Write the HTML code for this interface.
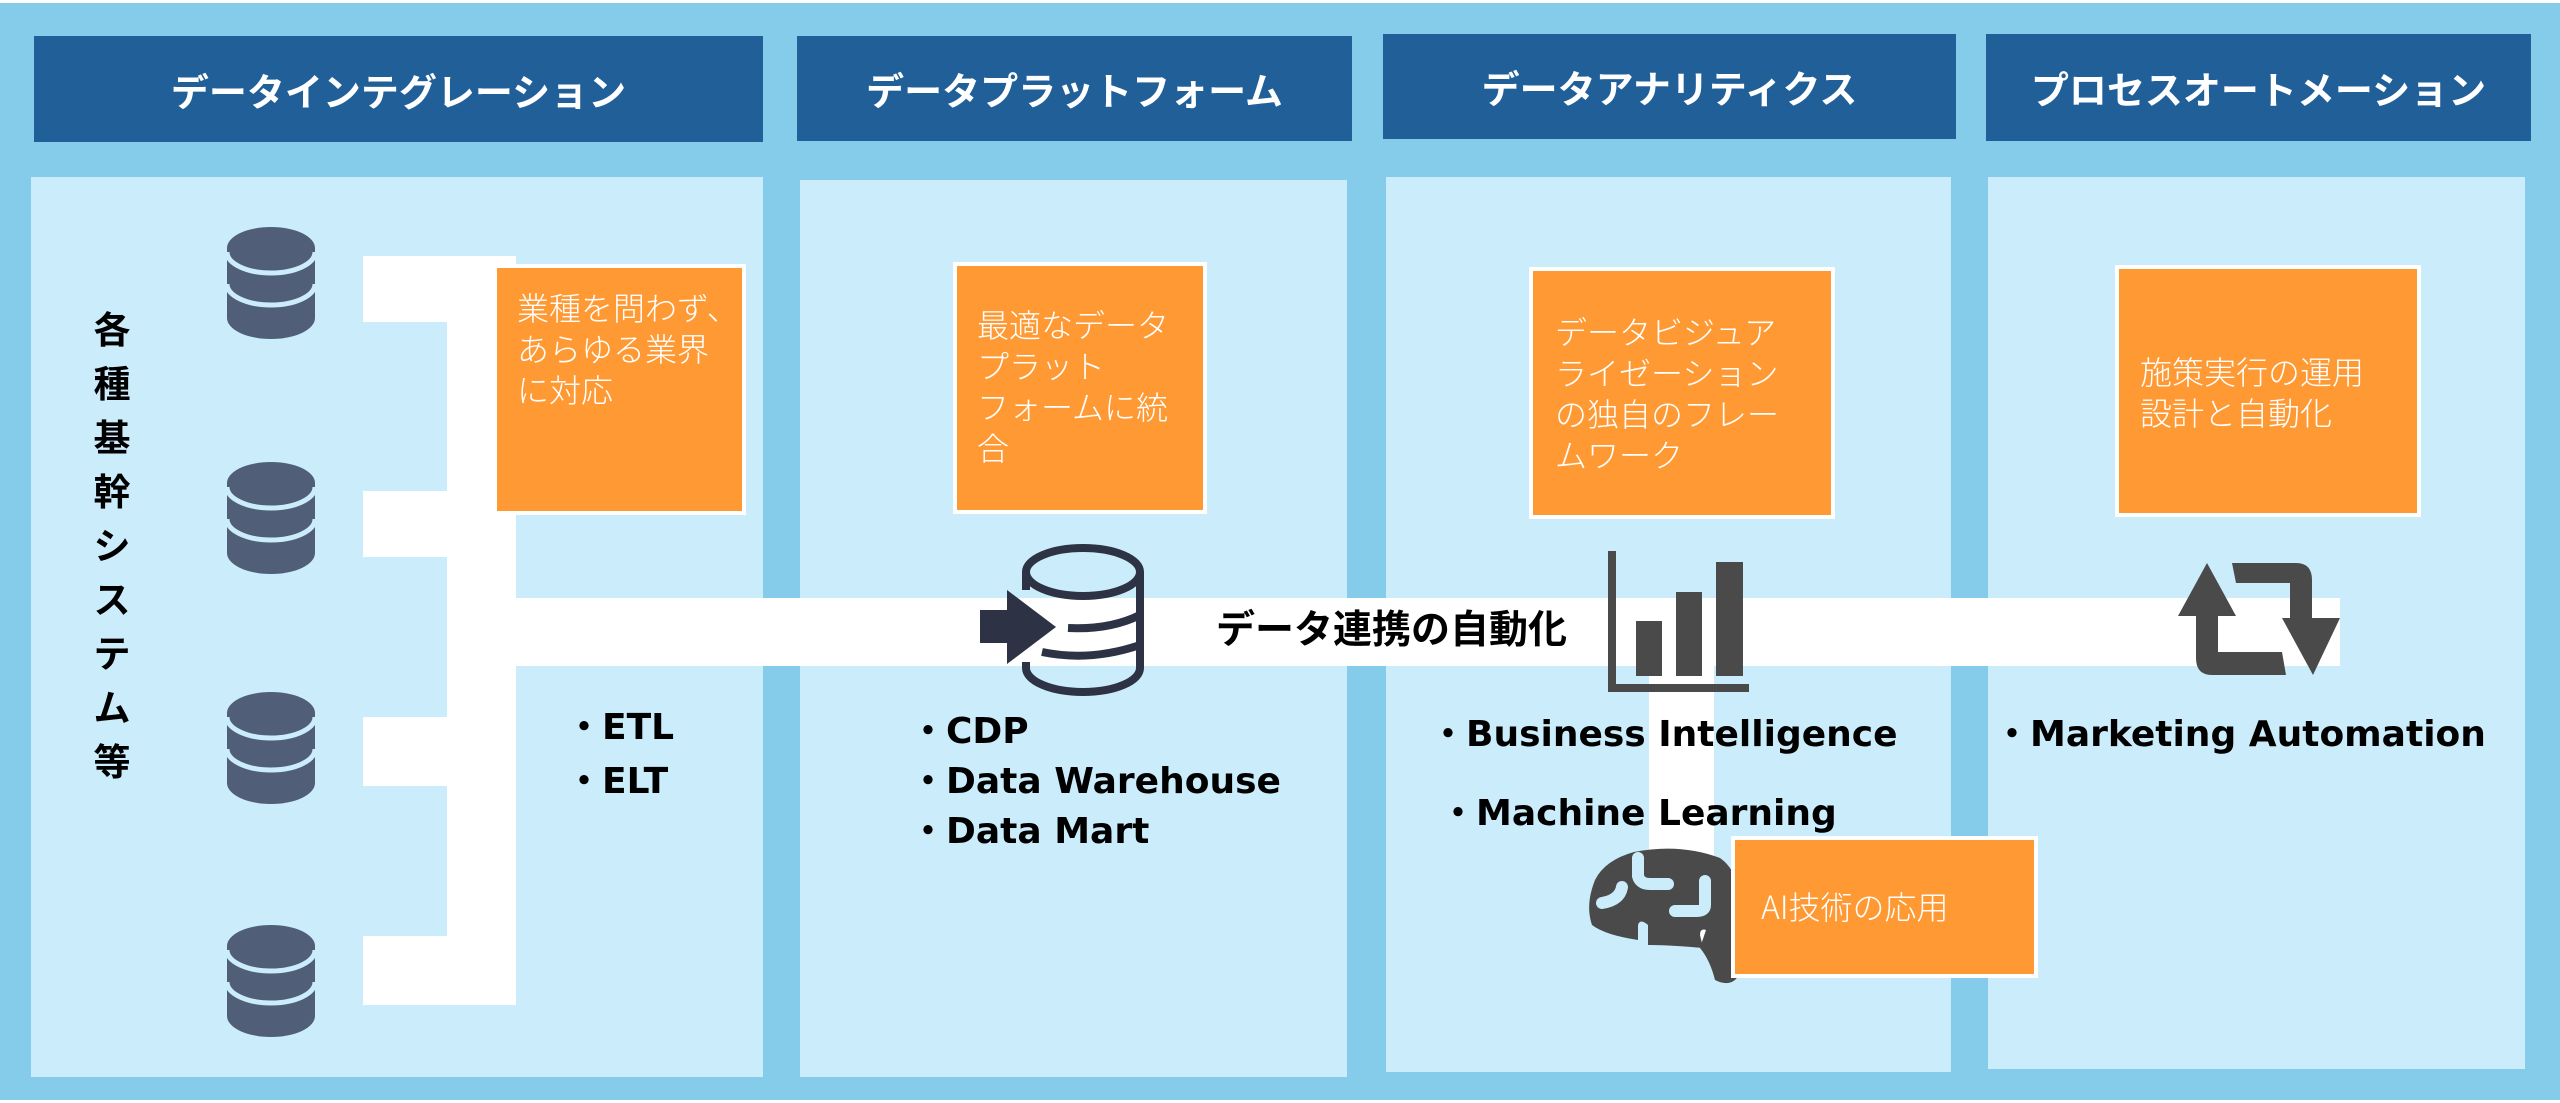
<!DOCTYPE html>
<html><head><meta charset="utf-8">
<style>
*{margin:0;padding:0;box-sizing:border-box}
body{width:2560px;height:1103px;position:relative;overflow:hidden;background:#fff;font-family:"Liberation Sans","Noto Sans CJK JP",sans-serif}
.a{position:absolute}
.bg{left:0;top:3px;width:2560px;height:1097px;background:#85cbea}
.hd{background:#215f99;color:#fff;font-weight:bold;font-size:38px;display:flex;align-items:center;justify-content:center;font-family:"Noto Sans CJK JP",sans-serif}
.pn{background:#cbedfb}
.w{background:#fff}
.ob{background:#ff9933;border:4px solid #fff;color:#fff;font-family:"Noto Sans CJK JP",sans-serif;font-size:32px;font-weight:300;line-height:41px;letter-spacing:0px}
.bl{font-family:"DejaVu Sans","Noto Sans CJK JP",sans-serif;font-weight:bold;font-size:36px;color:#000;white-space:nowrap;line-height:40px}
</style></head><body>
<div class="a bg"></div>
<div class="a hd" style="left:34px;top:36px;width:729px;height:106px">データインテグレーション</div>
<div class="a hd" style="left:797px;top:36px;width:555px;height:105px">データプラットフォーム</div>
<div class="a hd" style="left:1383px;top:34px;width:573px;height:105px">データアナリティクス</div>
<div class="a hd" style="left:1986px;top:34px;width:545px;height:107px">プロセスオートメーション</div>

<div class="a pn" style="left:31px;top:177px;width:732px;height:900px"></div>
<div class="a pn" style="left:800px;top:180px;width:547px;height:897px"></div>
<div class="a pn" style="left:1386px;top:177px;width:565px;height:895px"></div>
<div class="a pn" style="left:1988px;top:177px;width:537px;height:892px"></div>

<div class="a w" style="left:363px;top:256px;width:153px;height:66px"></div>
<div class="a w" style="left:363px;top:491px;width:153px;height:66px"></div>
<div class="a w" style="left:363px;top:717px;width:153px;height:69px"></div>
<div class="a w" style="left:363px;top:936px;width:153px;height:69px"></div>
<div class="a w" style="left:447px;top:256px;width:69px;height:749px"></div>
<div class="a w" style="left:516px;top:598px;width:1824px;height:68px"></div>
<div class="a w" style="left:1649px;top:660px;width:65px;height:280px"></div>

<div class="a" style="left:88px;top:300px;width:48px;font-family:'Noto Sans CJK JP',sans-serif;font-weight:bold;font-size:37px;line-height:54px;text-align:center;color:#000">各<br>種<br>基<br>幹<br>シ<br>ス<br>テ<br>ム<br>等</div>

<svg class="a" style="left:0;top:0" width="2560" height="1103">
<defs>
<g id="db">
<path d="M0,0 V70 A44,21 0 0 0 88,70 V0 A44,21 0 0 0 0,0 Z" fill="#515e78"/>
<path d="M0,4 A44,21 0 0 0 88,4" fill="none" stroke="#cbedfb" stroke-width="5"/>
<path d="M0,36 A44,21 0 0 0 88,36" fill="none" stroke="#cbedfb" stroke-width="5"/>
</g>
</defs>
<use href="#db" x="227" y="248"/>
<use href="#db" x="227" y="483"/>
<use href="#db" x="227" y="713"/>
<use href="#db" x="227" y="946"/>

<g fill="none" stroke="#2d3344" stroke-width="8">
<ellipse cx="1083" cy="572" rx="57" ry="24"/>
<path d="M1140,572 V668 A57,24 0 0 1 1026,668 V662"/>
<path d="M1026,572 V590"/>
<path d="M1068,628 Q1110,630 1140,615"/>
<path d="M1042,652 Q1090,662 1140,645"/>
</g>
<polygon points="980,610 1007,610 1007,590 1056,627 1007,664 1007,643 980,643" fill="#2d3344"/>

<g fill="#4a4a4a">
<rect x="1608" y="551" width="8" height="141"/>
<rect x="1608" y="684" width="141" height="8"/>
<rect x="1636" y="621" width="26" height="55"/>
<rect x="1676" y="592" width="26" height="84"/>
<rect x="1716" y="562" width="27" height="114"/>
</g>

<g fill="#4a4a4a">
<polygon points="2207,563 2236,616 2178,616"/>
<path d="M2196,612 H2218 V652 H2282 L2286,675 H2212 Q2196,675 2196,658 Z"/>
<path d="M2232,563 H2296 Q2312,563 2312,580 V622 H2290 V583 H2236 Z"/>
<polygon points="2282,618 2340,618 2313,675"/>
</g>

<path d="M1634,852 Q1680,843 1720,858 Q1745,875 1740,930 L1742,968 Q1735,990 1715,980 Q1710,960 1700,948 L1706,930 Q1700,928 1700,935 L1703,948 Q1670,945 1648,945 L1648,925 Q1640,918 1638,925 L1638,940 Q1605,935 1592,925 Q1585,905 1595,880 Q1605,860 1634,852 Z" fill="#4a4a4a"/>
<g fill="none" stroke="#cbedfb" stroke-width="12" stroke-linecap="round">
<path d="M1638,858 V876 Q1640,884 1650,884 H1668"/>
<path d="M1705,881 V905 Q1705,911 1697,911 H1675"/>
<path d="M1622,887 Q1620,900 1602,903"/>
</g>
</svg>

<div class="a ob" style="left:493px;top:264px;width:253px;height:251px;padding:19px 0 0 20px">業種を問わず、<br>あらゆる業界<br>に対応</div>
<div class="a ob" style="left:953px;top:262px;width:254px;height:252px;padding:38px 0 0 20px">最適なデータ<br>プラット<br>フォームに統<br>合</div>
<div class="a ob" style="left:1529px;top:267px;width:306px;height:252px;padding:40px 0 0 22px">データビジュア<br>ライゼーション<br>の独自のフレー<br>ムワーク</div>
<div class="a ob" style="left:2115px;top:265px;width:306px;height:252px;padding:82px 0 0 21px">施策実行の運用<br>設計と自動化</div>
<div class="a ob" style="left:1731px;top:836px;width:307px;height:142px;padding:46px 0 0 26px">AI技術の応用</div>

<div class="a bl" style="left:1216px;top:607px;font-family:'Noto Sans CJK JP',sans-serif;font-size:39px">データ連携の自動化</div>
<div class="a bl" style="left:566px;top:708px">・ETL</div>
<div class="a bl" style="left:566px;top:762px">・ELT</div>
<div class="a bl" style="left:910px;top:712px">・CDP</div>
<div class="a bl" style="left:910px;top:762px">・Data Warehouse</div>
<div class="a bl" style="left:910px;top:812px">・Data Mart</div>
<div class="a bl" style="left:1430px;top:715px">・Business Intelligence</div>
<div class="a bl" style="left:1440px;top:794px">・Machine Learning</div>
<div class="a bl" style="left:1994px;top:715px">・Marketing Automation</div>
</body></html>
